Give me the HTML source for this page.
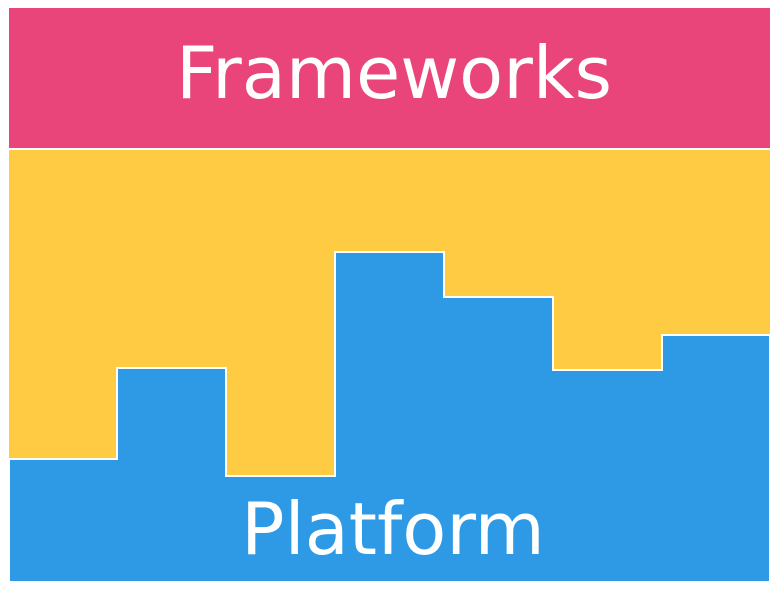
<!DOCTYPE html>
<html><head><style>
html,body{margin:0;padding:0;background:#fff;width:779px;height:592px;overflow:hidden}
</style></head><body>
<svg width="779" height="592" xmlns="http://www.w3.org/2000/svg">
<rect x="9" y="8" width="761" height="141" fill="#ea457b"/>
<rect x="9" y="149" width="761" height="433" fill="#fecb42"/>
<line x1="9" y1="149" x2="770" y2="149" stroke="#fff" stroke-width="2"/>
<path d="M9 459 H117 V368 H226 V476 H335 V252 H444 V297 H553 V370 H662 V335 H770 V582 H9 Z" fill="#2e9ae5" stroke="#fff" stroke-width="2"/>
<rect x="0" y="582" width="779" height="10" fill="#fff"/>
<rect x="770" y="0" width="9" height="592" fill="#fff"/>
<rect x="0" y="0" width="9" height="592" fill="#fff"/>
<text x="394" y="98" text-anchor="middle" font-family="DejaVu Sans, sans-serif" font-size="72" fill="#fff">Frameworks</text>
<text x="393" y="554" text-anchor="middle" font-family="DejaVu Sans, sans-serif" font-size="72" fill="#fff">Platform</text>
</svg>
</body></html>
